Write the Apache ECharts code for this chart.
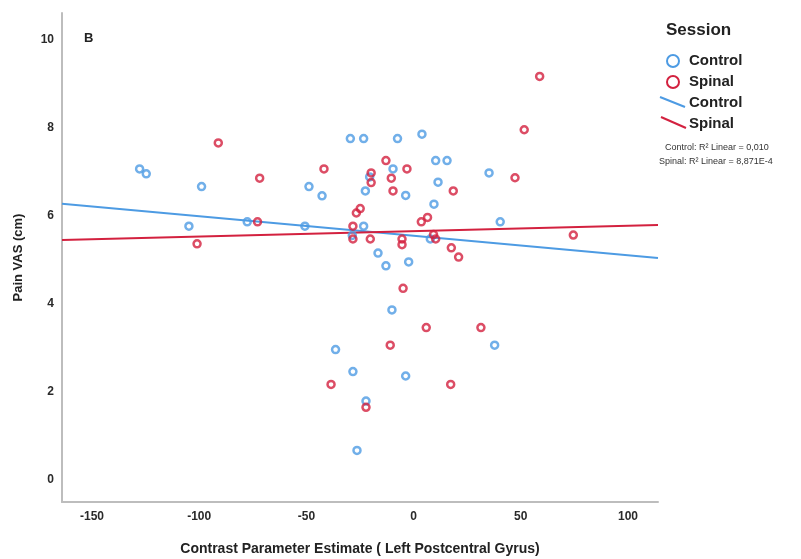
<!DOCTYPE html>
<html>
<head>
<meta charset="utf-8">
<title>Pain VAS vs Contrast Parameter Estimate</title>
<script src="https://cdn.jsdelivr.net/npm/echarts@6/dist/echarts.min.js"></script>
<style>
  html, body { margin: 0; padding: 0; background: #fff; }
  #chart { width: 801px; height: 559px; }
</style>
</head>
<body>
<div id="chart"></div>
<script>
// Control session points: [contrast estimate, pain VAS]
const controlPoints = [
    [-127.8, 7.06], [-124.7, 6.95], [-98.9, 6.66], [-104.8, 5.76], [-77.6, 5.86],
    [-48.8, 6.66], [-42.7, 6.45], [-50.7, 5.76], [-29.5, 7.75], [-23.3, 7.75],
    [-7.5, 7.75], [3.9, 7.85], [10.3, 7.25], [15.6, 7.25], [-9.6, 7.06],
    [35.2, 6.97], [-20.5, 6.88], [11.4, 6.76], [-22.5, 6.56], [-3.7, 6.46],
    [9.5, 6.26], [40.4, 5.86], [-23.3, 5.76], [-28.6, 5.55], [7.8, 5.47],
    [-16.6, 5.15], [-12.9, 4.86], [-2.3, 4.95], [-10.1, 3.86], [-36.4, 2.96],
    [37.8, 3.06], [-28.3, 2.46], [-3.7, 2.36], [-22.2, 1.79], [-26.4, 0.67]
];

// Spinal session points
const spinalPoints = [
    [-91.1, 7.65], [-71.8, 6.85], [-41.8, 7.06], [-101.0, 5.36], [-72.8, 5.86],
    [-12.9, 7.25], [-3.1, 7.06], [-19.8, 6.97], [-19.8, 6.75], [-10.4, 6.85],
    [-9.6, 6.56], [18.5, 6.56], [-24.9, 6.16], [-26.7, 6.06], [6.5, 5.96],
    [3.6, 5.86], [-28.3, 5.76], [-28.3, 5.47], [-20.2, 5.47], [-5.4, 5.47],
    [-5.4, 5.34], [9.3, 5.57], [10.3, 5.47], [17.6, 5.27], [21.0, 5.06],
    [-4.9, 4.35], [5.9, 3.46], [31.4, 3.46], [-10.9, 3.06], [-38.5, 2.17],
    [17.3, 2.17], [-22.2, 1.65], [58.8, 9.16], [51.6, 7.95], [47.3, 6.86],
    [74.5, 5.56]
];

// Linear fits: [intercept, slope]
const controlFit = [5.545, -0.00442];
const spinalFit = [5.65, 0.00122];

const xRange = [-164, 114];
const yRange = [-0.5, 10.6];
const xTicks = [-150, -100, -50, 0, 50, 100];
const yTicks = [0, 2, 4, 6, 8, 10];

const fitLabels = ['Control: R\u00b2 Linear = 0,010', 'Spinal: R\u00b2 Linear = 8,871E-4'];

const blue = '#4d9be3';
const red = '#d3213f';
const font = '"Liberation Sans", Arial, sans-serif';

function fitLine(fit) {
    return xRange.map(x => [x, fit[0] + fit[1] * x]);
}

const chart = echarts.init(document.getElementById('chart'));

const axisText = { color: '#2a2a2a', fontWeight: 'bold', fontSize: 12, fontFamily: font };

const option = {
    animation: false,
    grid: { left: 62, right: 143, top: 13, bottom: 57, outerBoundsMode: 'none', containLabel: false },
    xAxis: {
        type: 'value',
        min: xRange[0],
        max: xRange[1],
        name: 'Contrast Parameter Estimate ( Left Postcentral Gyrus)',
        nameLocation: 'middle',
        nameGap: 40,
        nameTextStyle: { color: '#222', fontWeight: 'bold', fontSize: 14, fontFamily: font },
        axisLine: { show: true, onZero: false, lineStyle: { color: '#bdbdbd', width: 2 } },
        axisTick: { show: false },
        splitLine: { show: false },
        axisLabel: Object.assign({ customValues: xTicks, margin: 9 }, axisText)
    },
    yAxis: {
        type: 'value',
        min: yRange[0],
        max: yRange[1],
        name: 'Pain VAS (cm)',
        nameLocation: 'middle',
        nameGap: 37,
        nameTextStyle: { color: '#222', fontWeight: 'bold', fontSize: 13, fontFamily: font },
        axisLine: { show: true, onZero: false, lineStyle: { color: '#bdbdbd', width: 2 } },
        axisTick: { show: false },
        splitLine: { show: false },
        axisLabel: Object.assign({ customValues: yTicks, margin: 8 }, axisText)
    },
    series: [
        {
            name: 'Control fit',
            type: 'line',
            data: fitLine(controlFit),
            symbol: 'none',
            lineStyle: { color: blue, width: 2 },
            z: 1
        },
        {
            name: 'Spinal fit',
            type: 'line',
            data: fitLine(spinalFit),
            symbol: 'none',
            lineStyle: { color: red, width: 2 },
            z: 1
        },
        {
            name: 'Control',
            type: 'scatter',
            data: controlPoints,
            symbol: 'circle',
            symbolSize: 7,
            itemStyle: { color: 'rgba(255,255,255,0)', borderColor: blue, borderWidth: 2.5 },
            z: 2
        },
        {
            name: 'Spinal',
            type: 'scatter',
            data: spinalPoints,
            symbol: 'circle',
            symbolSize: 7,
            itemStyle: { color: 'rgba(255,255,255,0)', borderColor: red, borderWidth: 2.5 },
            z: 3
        }
    ],
    graphic: [
        // panel letter
        { type: 'text', left: 84, top: 32, style: { text: 'B', fill: '#222', font: 'bold 13px ' + font } },
        // legend
        { type: 'text', left: 666, top: 22, style: { text: 'Session', fill: '#222', font: 'bold 17px ' + font } },
        { type: 'circle', shape: { cx: 673, cy: 61, r: 6 }, style: { fill: 'none', stroke: blue, lineWidth: 2 } },
        { type: 'text', left: 689, top: 53, style: { text: 'Control', fill: '#222', font: 'bold 15px ' + font } },
        { type: 'circle', shape: { cx: 673, cy: 82, r: 6 }, style: { fill: 'none', stroke: red, lineWidth: 2 } },
        { type: 'text', left: 689, top: 74, style: { text: 'Spinal', fill: '#222', font: 'bold 15px ' + font } },
        { type: 'line', shape: { x1: 660, y1: 97, x2: 685, y2: 107 }, style: { stroke: blue, lineWidth: 2 } },
        { type: 'text', left: 689, top: 95, style: { text: 'Control', fill: '#222', font: 'bold 15px ' + font } },
        { type: 'line', shape: { x1: 661, y1: 117, x2: 686, y2: 128 }, style: { stroke: red, lineWidth: 2 } },
        { type: 'text', left: 689, top: 116, style: { text: 'Spinal', fill: '#222', font: 'bold 15px ' + font } },
        { type: 'text', left: 665, top: 143, style: { text: fitLabels[0], fill: '#333', font: '9px ' + font } },
        { type: 'text', left: 659, top: 157, style: { text: fitLabels[1], fill: '#333', font: '9px ' + font } }
    ]
};

chart.setOption(option);
</script>
</body>
</html>
